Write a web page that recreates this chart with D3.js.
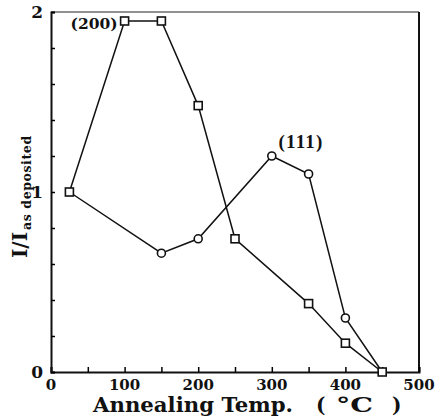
<!DOCTYPE html>
<html>
<head>
<meta charset="utf-8">
<script src="https://cdn.jsdelivr.net/npm/d3@7"></script>
<style>
  body { margin: 0; background: #fff; }
  text { font-family: "DejaVu Serif", "Liberation Serif", serif; font-weight: bold; fill: #111; }
</style>
</head>
<body>
<svg width="437" height="418"></svg>
<script>
// annealing temperature (°C)
var temps200 = [25, 100, 150, 200, 250, 350, 400, 450];
var ratio200 = [1.0, 1.95, 1.95, 1.48, 0.74, 0.38, 0.16, 0.0];
var temps111 = [25, 150, 200, 300, 350, 400, 450];
var ratio111 = [1.0, 0.66, 0.74, 1.2, 1.1, 0.3, 0.0];
var xTickLabels = [0, 100, 200, 300, 400, 500];
var yTickLabels = [0, 1, 2];

var svg = d3.select("svg");
var margin = {top: 12, right: 18, bottom: 46, left: 51};
var width = +svg.attr("width") - margin.left - margin.right;
var height = +svg.attr("height") - margin.top - margin.bottom;

var g = svg.append("g").attr("transform", "translate(" + margin.left + "," + margin.top + ")");

var x = d3.scaleLinear().domain([0, 500]).range([0, width]);
var y = d3.scaleLinear().domain([0, 2]).range([height, 0]);

// frame
g.append("line").attr("x1", 0).attr("x2", width).attr("y1", 0).attr("y2", 0)
    .attr("stroke", "#222").attr("stroke-width", 1);
g.append("line").attr("x1", width).attr("x2", width).attr("y1", 0).attr("y2", height)
    .attr("stroke", "#111").attr("stroke-width", 2);

// bottom axis, inward ticks
var xAxis = g.append("g")
    .attr("transform", "translate(0," + height + ")")
    .call(d3.axisBottom(x).tickValues(d3.range(0, 501, 50)).tickSize(-5).tickFormat(""));
xAxis.select(".domain").attr("stroke-width", 2).attr("stroke", "#111");
xAxis.selectAll(".tick line").attr("stroke-width", 1.5);

g.selectAll(".xlab")
    .data(xTickLabels)
    .enter().append("text")
    .attr("class", "xlab")
    .attr("x", function(d) { return x(d); })
    .attr("y", height + 18)
    .attr("text-anchor", "middle")
    .style("font-size", "15px")
    .text(function(d) { return d; });

// left axis, inward ticks
var yAxis = g.append("g")
    .call(d3.axisLeft(y).tickValues(d3.range(0, 2.01, 0.2)).tickSize(-4).tickFormat(""));
yAxis.select(".domain").attr("stroke-width", 2).attr("stroke", "#111");
yAxis.selectAll(".tick line").attr("stroke-width", 1.5);

g.selectAll(".ylab")
    .data(yTickLabels)
    .enter().append("text")
    .attr("class", "ylab")
    .attr("x", -8)
    .attr("y", function(d) { return y(d); })
    .attr("dy", "0.35em")
    .attr("text-anchor", "end")
    .style("font-size", "17px")
    .text(function(d) { return d; });

// series
var line = d3.line()
    .x(function(d) { return x(d[0]); })
    .y(function(d) { return y(d[1]); });

var pts200 = d3.zip(temps200, ratio200);
var pts111 = d3.zip(temps111, ratio111);

[pts200, pts111].forEach(function(pts) {
    g.append("path")
        .datum(pts)
        .attr("fill", "none")
        .attr("stroke", "#111")
        .attr("stroke-width", 1.5)
        .attr("d", line);
});

g.selectAll(".sq")
    .data(pts200)
    .enter().append("rect")
    .attr("class", "sq")
    .attr("x", function(d) { return x(d[0]) - 4; })
    .attr("y", function(d) { return y(d[1]) - 4; })
    .attr("width", 8)
    .attr("height", 8)
    .attr("fill", "#fff")
    .attr("stroke", "#111")
    .attr("stroke-width", 1.6);

g.selectAll(".ci")
    .data(pts111.filter(function(d) { return d[0] !== 25 && d[0] !== 450; }))
    .enter().append("circle")
    .attr("class", "ci")
    .attr("cx", function(d) { return x(d[0]); })
    .attr("cy", function(d) { return y(d[1]); })
    .attr("r", 4)
    .attr("fill", "#fff")
    .attr("stroke", "#111")
    .attr("stroke-width", 1.6);

// series labels
g.append("text")
    .attr("x", x(100) - 7)
    .attr("y", y(1.95) + 8)
    .attr("text-anchor", "end")
    .style("font-size", "15.5px")
    .text("(200)");

g.append("text")
    .attr("x", x(309))
    .attr("y", y(1.2) - 8)
    .attr("textLength", 44).attr("lengthAdjust", "spacing")
    .style("font-family", "'Liberation Serif', serif")
    .style("font-size", "19px")
    .text("(111)");

// axis titles
var xTitleY = 412;
svg.append("text")
    .attr("x", 93).attr("y", xTitleY)
    .attr("textLength", 200).attr("lengthAdjust", "spacingAndGlyphs")
    .style("font-size", "20px")
    .text("Annealing Temp.");
svg.append("text")
    .attr("x", 316).attr("y", xTitleY)
    .style("font-size", "20px")
    .text("(");
svg.append("text")
    .attr("x", 336).attr("y", xTitleY)
    .attr("textLength", 37).attr("lengthAdjust", "spacingAndGlyphs")
    .style("font-size", "20px")
    .text("\u00b0C");
svg.append("text")
    .attr("x", 392).attr("y", xTitleY)
    .style("font-size", "20px")
    .text(")");

var yt = svg.append("text")
    .attr("transform", "translate(27,258) rotate(-90)")
    .attr("text-anchor", "start")
    .style("font-size", "20px");
yt.append("tspan").text("I/I");
yt.append("tspan").attr("dy", 4).attr("dx", 2)
    .style("font-size", "12.5px").style("letter-spacing", "0.6px")
    .text("as deposited");
</script>
</body>
</html>
